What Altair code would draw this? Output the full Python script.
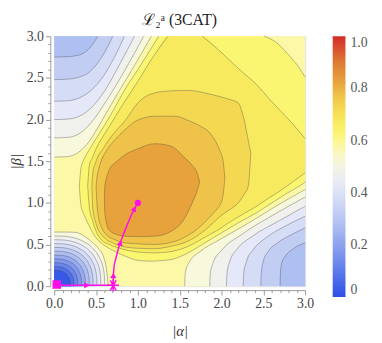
import altair as alt
import pandas as pd

# ---------------- data ----------------
AXIS_RANGE = [0.0, 3.0]
MAJOR_TICKS = [0.0, 0.5, 1.0, 1.5, 2.0, 2.5, 3.0]
MINOR_TICKS = [0.1, 0.2, 0.3, 0.4, 0.6, 0.7, 0.8, 0.9, 1.1, 1.2, 1.3, 1.4, 1.6, 1.7, 1.8, 1.9,
               2.1, 2.2, 2.3, 2.4, 2.6, 2.7, 2.8, 2.9]
CONTOUR_STEP = 0.05

# regions where L2 > level (alpha, lower beta, upper beta)
HI60_A = [0.3, 0.32, 0.36, 0.42, 0.5, 0.6, 0.7, 0.85, 1.0, 1.15, 1.25, 1.4, 1.6, 1.8, 2.0, 2.2, 2.4, 2.51, 2.65, 2.79, 2.93, 3.0]
HI60_LO = [1.2, 0.97, 0.85, 0.72, 0.58, 0.49, 0.43, 0.36, 0.31, 0.3, 0.305, 0.32, 0.4, 0.52, 0.64, 0.76, 0.87, 0.94, 1.03, 1.12, 1.2, 1.25]
HI60_HI = [1.2, 1.42, 1.53, 1.64, 1.77, 1.93, 2.1, 2.37, 2.6, 2.84, 3.0, 3.0, 3.0, 3.0, 3.0, 3.0, 3.0, 3.0, 2.93, 2.79, 2.62, 2.51]

HI65_A = [0.4, 0.42, 0.46, 0.5, 0.56, 0.66, 0.8, 1.0, 1.2, 1.36, 1.5, 1.65, 1.77, 1.95, 2.1, 2.25, 2.42, 2.57, 2.71, 2.85, 3.0]
HI65_LO = [1.2, 0.95, 0.78, 0.66, 0.56, 0.5, 0.45, 0.41, 0.4, 0.41, 0.44, 0.5, 0.57, 0.67, 0.77, 0.86, 0.96, 1.06, 1.15, 1.25, 1.36]
HI65_HI = [1.2, 1.45, 1.55, 1.65, 1.76, 1.92, 2.15, 2.46, 2.78, 3.0, 3.0, 3.0, 3.0, 2.85, 2.71, 2.57, 2.42, 2.25, 2.1, 1.95, 1.77]

HI70_A = [0.45, 0.46, 0.5, 0.59, 0.7, 0.85, 1.0, 1.2, 1.4, 1.6, 1.8, 2.0, 2.1, 2.2, 2.27, 2.32, 2.35]
HI70_LO = [1.2, 0.95, 0.75, 0.59, 0.52, 0.47, 0.455, 0.45, 0.48, 0.54, 0.67, 0.85, 0.92, 1.0, 1.1, 1.2, 1.6]
HI70_HI = [1.2, 1.35, 1.5, 1.66, 1.82, 1.99, 2.2, 2.32, 2.345, 2.35, 2.32, 2.27, 2.24, 2.2, 2.0, 1.75, 1.6]

HI75_A = [0.5, 0.51, 0.53, 0.56, 0.62, 0.72, 0.85, 0.97, 1.2, 1.45, 1.6, 1.75, 1.85, 1.95, 1.98, 2.02, 2.04]
HI75_LO = [1.2, 1.0, 0.82, 0.72, 0.62, 0.56, 0.52, 0.51, 0.5, 0.54, 0.61, 0.72, 0.82, 0.93, 0.97, 1.1, 1.3]
HI75_HI = [1.2, 1.3, 1.4, 1.5, 1.62, 1.75, 1.88, 1.98, 2.04, 2.04, 1.99, 1.92, 1.85, 1.7, 1.63, 1.5, 1.3]

HI80_A = [0.6, 0.605, 0.62, 0.66, 0.75, 0.85, 1.0, 1.2, 1.4, 1.55, 1.65, 1.7, 1.74]
HI80_LO = [1.05, 0.88, 0.78, 0.67, 0.62, 0.6, 0.595, 0.6, 0.66, 0.8, 1.0, 1.12, 1.25]
HI80_HI = [1.05, 1.2, 1.28, 1.4, 1.5, 1.58, 1.65, 1.71, 1.68, 1.55, 1.45, 1.38, 1.25]

# top-left corner: L2 < level above the curve
TL30_A = [0.0, 0.15, 0.28, 0.37, 0.45, 0.52]
TL30_B = [2.75, 2.755, 2.77, 2.81, 2.89, 3.0]
TL35_A = [0.0, 0.15, 0.3, 0.42, 0.52, 0.62, 0.7]
TL35_B = [2.48, 2.485, 2.51, 2.57, 2.68, 2.84, 3.0]
TL40_A = [0.0, 0.15, 0.3, 0.44, 0.58, 0.72, 0.84]
TL40_B = [2.22, 2.225, 2.26, 2.35, 2.51, 2.75, 3.0]
TL45_A = [0.0, 0.15, 0.3, 0.45, 0.6, 0.78, 0.96]
TL45_B = [2.0, 2.005, 2.04, 2.15, 2.34, 2.66, 3.0]
TL50_A = [0.0, 0.15, 0.28, 0.43, 0.62, 0.85, 1.07]
TL50_B = [1.78, 1.785, 1.82, 1.95, 2.22, 2.6, 3.0]
TL55_A = [0.0, 0.15, 0.28, 0.42, 0.56, 0.75, 0.96, 1.16]
TL55_B = [1.55, 1.555, 1.6, 1.74, 1.97, 2.3, 2.65, 3.0]

# bottom-right corner: L2 < level below the curve
BR30_A = [2.7, 2.705, 2.72, 2.77, 2.86, 3.0]
BR30_B = [0.0, 0.15, 0.28, 0.37, 0.45, 0.52]
BR35_A = [2.47, 2.475, 2.5, 2.56, 2.67, 2.84, 3.0]
BR35_B = [0.0, 0.15, 0.3, 0.42, 0.52, 0.62, 0.7]
BR40_A = [2.26, 2.265, 2.3, 2.38, 2.53, 2.76, 3.0]
BR40_B = [0.0, 0.15, 0.3, 0.44, 0.58, 0.72, 0.84]
BR45_A = [2.06, 2.065, 2.1, 2.19, 2.37, 2.68, 3.0]
BR45_B = [0.0, 0.15, 0.3, 0.45, 0.6, 0.78, 0.96]
BR50_A = [1.86, 1.865, 1.9, 2.0, 2.24, 2.61, 3.0]
BR50_B = [0.0, 0.15, 0.28, 0.43, 0.62, 0.85, 1.07]
BR55_A = [1.56, 1.565, 1.61, 1.75, 1.98, 2.31, 2.65, 3.0]
BR55_B = [0.0, 0.15, 0.28, 0.42, 0.56, 0.75, 0.96, 1.16]

# basin round the origin: L2 < level below the curve
BS05_A = [0.0, 0.037, 0.064, 0.109, 0.144, 0.169, 0.185, 0.189, 0.19]
BS05_B = [0.19, 0.189, 0.185, 0.169, 0.144, 0.109, 0.064, 0.037, 0.0]
BS10_A = [0.0, 0.046, 0.08, 0.135, 0.179, 0.21, 0.23, 0.234, 0.236]
BS10_B = [0.236, 0.234, 0.23, 0.21, 0.179, 0.135, 0.08, 0.046, 0.0]
BS15_A = [0.0, 0.055, 0.096, 0.162, 0.214, 0.251, 0.274, 0.28, 0.282]
BS15_B = [0.282, 0.28, 0.274, 0.251, 0.214, 0.162, 0.096, 0.055, 0.0]
BS20_A = [0.0, 0.064, 0.111, 0.188, 0.249, 0.292, 0.319, 0.326, 0.328]
BS20_B = [0.328, 0.326, 0.319, 0.292, 0.249, 0.188, 0.111, 0.064, 0.0]
BS25_A = [0.0, 0.073, 0.127, 0.215, 0.283, 0.333, 0.364, 0.371, 0.374]
BS25_B = [0.374, 0.371, 0.364, 0.333, 0.283, 0.215, 0.127, 0.073, 0.0]
BS30_A = [0.0, 0.082, 0.142, 0.241, 0.318, 0.374, 0.409, 0.417, 0.42]
BS30_B = [0.42, 0.417, 0.409, 0.374, 0.318, 0.241, 0.142, 0.082, 0.0]
BS35_A = [0.0, 0.091, 0.158, 0.267, 0.353, 0.415, 0.453, 0.463, 0.466]
BS35_B = [0.466, 0.463, 0.453, 0.415, 0.353, 0.267, 0.158, 0.091, 0.0]
BS40_A = [0.0, 0.1, 0.174, 0.294, 0.388, 0.456, 0.498, 0.508, 0.512]
BS40_B = [0.512, 0.508, 0.498, 0.456, 0.388, 0.294, 0.174, 0.1, 0.0]
BS45_A = [0.0, 0.109, 0.189, 0.32, 0.423, 0.497, 0.543, 0.554, 0.558]
BS45_B = [0.558, 0.554, 0.543, 0.497, 0.423, 0.32, 0.189, 0.109, 0.0]
BS50_A = [0.0, 0.118, 0.205, 0.347, 0.458, 0.538, 0.588, 0.6, 0.604]
BS50_B = [0.604, 0.6, 0.588, 0.538, 0.458, 0.347, 0.205, 0.118, 0.0]
BS55_A = [0.0, 0.15, 0.26, 0.36, 0.45, 0.53, 0.59, 0.625, 0.645]
BS55_B = [0.65, 0.65, 0.645, 0.6, 0.53, 0.45, 0.35, 0.2, 0.0]

# colour bar
CB_STOPS = [0.0, 0.025, 0.075, 0.125, 0.175, 0.225, 0.275, 0.325, 0.375, 0.425, 0.475,
            0.525, 0.575, 0.625, 0.675, 0.725, 0.775, 0.825, 0.9, 1.0]
CB_COLORS = ["#2e4fe6", "#3858e8", "#5070ea", "#6a85ec", "#8298ee", "#98abf0", "#aebff2",
             "#c2cdf4", "#d4dcf6", "#e4e8f8", "#f0f0ec", "#f8f8dc", "#fcf8a8", "#fbf672",
             "#f8ea5e", "#f4d852", "#efc24a", "#e7a23c", "#dd7a34", "#d42a2a"]
CB_TICKS = [0.0, 0.2, 0.4, 0.6, 0.8, 1.0]
BACKGROUND_LEVEL = 0.55

# trajectory overlay
PATH1_ALPHA = [0.03, 0.705]
PATH1_BETA = [0.01, 0.01]
PATH2_ALPHA = [0.705, 0.707, 0.715, 0.736, 0.767, 0.807, 0.866, 0.925, 1.0]
PATH2_BETA = [0.01, 0.12, 0.23, 0.33, 0.45, 0.57, 0.72, 0.86, 1.0]
ARROW_ALPHA = [0.39, 0.707, 0.79, 0.96]
ARROW_BETA = [0.01, 0.13, 0.52, 0.93]
ARROW_ANGLE = [90, 2, 15, 28]
START_ALPHA, START_BETA = [0.03], [0.02]
STAR_ALPHA, STAR_BETA = [0.705], [0.01]
END_ALPHA, END_BETA = [1.0], [1.0]

# ---------------- chart ----------------
PINK = "#ff10e8"
SERIF = "Liberation Serif"
TOP = AXIS_RANGE[1]
BOTTOM = AXIS_RANGE[0]
half = CONTOUR_STEP / 2

xs = alt.Scale(domain=AXIS_RANGE, nice=False, zero=False)
ys = alt.Scale(domain=AXIS_RANGE, nice=False, zero=False)
cscale = alt.Scale(domain=CB_STOPS, range=CB_COLORS, interpolate="rgb")
LEG = alt.Legend(
    type="gradient", title=None, orient="right", offset=26, direction="vertical",
    gradientLength=265, gradientThickness=13, gradientStrokeWidth=0,
    values=CB_TICKS, labelOverlap=False,
    labelExpr="datum.value == 0 ? '0' : format(datum.value, '.1f')",
    labelFont=SERIF, labelFontSize=14, labelColor="#555", labelOffset=5)

def axis_major(title, orient):
    return alt.Axis(title=title, values=MAJOR_TICKS, format=".1f", orient=orient, offset=4,
                    tickSize=5, labelFlush=False, labelOverlap=False, grid=False,
                    labelFont=SERIF, labelFontSize=14, labelColor="#444", labelPadding=2,
                    titleFont=SERIF, titleFontSize=15, titleFontWeight="normal",
                    titleFontStyle="italic", titleColor="#333",
                    titlePadding=13 if orient == "bottom" else 3,
                    domainColor="#9a9a9a", tickColor="#9a9a9a")

def axis_minor(orient):
    return alt.Axis(title=None, values=MINOR_TICKS, labels=False, orient=orient, offset=4,
                    tickSize=2.5, domain=False, grid=False, tickColor="#9a9a9a")

def area_layer(a, lo, hi, level):
    df = pd.DataFrame({"a": a, "lo": lo, "hi": hi, "band": [level] * len(a)})
    return alt.Chart(df).mark_area(interpolate="monotone").encode(
        x=alt.X("a:Q", scale=xs, axis=None),
        y=alt.Y("lo:Q", scale=ys, axis=None),
        y2="hi:Q",
        color=alt.Color("band:Q", scale=cscale, legend=LEG))

bg_df = pd.DataFrame({"a0": [AXIS_RANGE[0]], "a1": [AXIS_RANGE[1]],
                      "b0": [AXIS_RANGE[0]], "b1": [AXIS_RANGE[1]],
                      "band": [BACKGROUND_LEVEL + half]})
background = alt.Chart(bg_df).mark_rect().encode(
    x=alt.X("a0:Q", scale=xs, axis=axis_major("|α|", "bottom")), x2="a1:Q",
    y=alt.Y("b0:Q", scale=ys, axis=axis_major("|β|", "left")), y2="b1:Q",
    color=alt.Color("band:Q", scale=cscale, legend=LEG))

HIGH = [(0.60, HI60_A, HI60_LO, HI60_HI), (0.65, HI65_A, HI65_LO, HI65_HI),
        (0.70, HI70_A, HI70_LO, HI70_HI), (0.75, HI75_A, HI75_LO, HI75_HI),
        (0.80, HI80_A, HI80_LO, HI80_HI)]
TOPLEFT = [(0.55, TL55_A, TL55_B), (0.50, TL50_A, TL50_B), (0.45, TL45_A, TL45_B),
           (0.40, TL40_A, TL40_B), (0.35, TL35_A, TL35_B), (0.30, TL30_A, TL30_B)]
BOTRIGHT = [(0.55, BR55_A, BR55_B), (0.50, BR50_A, BR50_B), (0.45, BR45_A, BR45_B),
            (0.40, BR40_A, BR40_B), (0.35, BR35_A, BR35_B), (0.30, BR30_A, BR30_B)]
BASIN = [(0.55, BS55_A, BS55_B), (0.50, BS50_A, BS50_B), (0.45, BS45_A, BS45_B),
         (0.40, BS40_A, BS40_B), (0.35, BS35_A, BS35_B), (0.30, BS30_A, BS30_B),
         (0.25, BS25_A, BS25_B), (0.20, BS20_A, BS20_B), (0.15, BS15_A, BS15_B),
         (0.10, BS10_A, BS10_B), (0.05, BS05_A, BS05_B)]

layers = [background]
lines = []

def add_line(a, b):
    # split off pieces that run along the top edge of the frame
    seg, segs = [], []
    for i, (x, y) in enumerate(zip(a, b)):
        if y >= TOP - 1e-9:
            prev_low = i > 0 and b[i - 1] < TOP - 1e-9
            next_low = i < len(b) - 1 and b[i + 1] < TOP - 1e-9
            if prev_low:
                seg.append((x, y)); segs.append(seg); seg = []
            elif next_low:
                seg = [(x, y)]
            elif i == 0 or i == len(b) - 1:
                seg.append((x, y))
        else:
            seg.append((x, y))
    if seg:
        segs.append(seg)
    for s in segs:
        cid = len(lines)
        for x, y in s:
            lines.append({"cid": cid, "a": x, "b": y})
        lines.append(None)

for lev, a, lo, hi in HIGH:
    layers.append(area_layer(a, lo, hi, lev + half))
    add_line(a, lo)
    add_line(a, hi)
for lev, a, b in TOPLEFT:
    layers.append(area_layer(a, b, [TOP] * len(a), lev - half))
    add_line(a, b)
for group in (BOTRIGHT, BASIN):
    for lev, a, b in group:
        layers.append(area_layer(a, [BOTTOM] * len(a), b, lev - half))
        add_line(a, b)

lines_df = pd.DataFrame([r for r in lines if r is not None])
contours = alt.Chart(lines_df).mark_line(
    interpolate="monotone", color="#3c3c3c", strokeWidth=0.7, opacity=0.5).encode(
    x=alt.X("a:Q", scale=xs, axis=None), y=alt.Y("b:Q", scale=ys, axis=None),
    detail="cid:N")
layers.append(contours)

p1 = pd.DataFrame({"a": PATH1_ALPHA, "b": PATH1_BETA})
p2 = pd.DataFrame({"a": PATH2_ALPHA, "b": PATH2_BETA})
arrows = pd.DataFrame({"a": ARROW_ALPHA, "b": ARROW_BETA, "ang": ARROW_ANGLE})

line1 = alt.Chart(p1).mark_line(color=PINK, strokeWidth=1.5).encode(
    x=alt.X("a:Q", scale=xs, axis=axis_minor("bottom")),
    y=alt.Y("b:Q", scale=ys, axis=axis_minor("left")))
line2 = alt.Chart(p2).mark_line(color=PINK, strokeWidth=1.5, interpolate="monotone").encode(
    x=alt.X("a:Q", scale=xs, axis=None), y=alt.Y("b:Q", scale=ys, axis=None))
arr = alt.Chart(arrows).mark_point(shape="triangle-up", filled=True, color=PINK, size=40, opacity=1).encode(
    x=alt.X("a:Q", scale=xs, axis=None), y=alt.Y("b:Q", scale=ys, axis=None),
    angle=alt.Angle("ang:Q", scale=None))
start = alt.Chart(pd.DataFrame({"a": START_ALPHA, "b": START_BETA})).mark_point(
    shape="square", filled=True, color=PINK, size=75, opacity=1).encode(
    x=alt.X("a:Q", scale=xs, axis=None), y=alt.Y("b:Q", scale=ys, axis=None))
star = alt.Chart(pd.DataFrame({"a": STAR_ALPHA, "b": STAR_BETA})).mark_point(
    shape="M-1,0L1,0M-0.5,-0.866L0.5,0.866M-0.5,0.866L0.5,-0.866M0,-1L0,1",
    filled=False, color=PINK, strokeWidth=1.5, size=140, opacity=1).encode(
    x=alt.X("a:Q", scale=xs, axis=None), y=alt.Y("b:Q", scale=ys, axis=None))
end = alt.Chart(pd.DataFrame({"a": END_ALPHA, "b": END_BETA})).mark_point(
    shape="circle", filled=True, color=PINK, size=40, opacity=1).encode(
    x=alt.X("a:Q", scale=xs, axis=None), y=alt.Y("b:Q", scale=ys, axis=None))

layers += [line1, line2, arr, start, star, end]

chart = alt.layer(*layers).resolve_axis(x="independent", y="independent").properties(
    width=255, height=254,
    autosize=alt.AutoSizeParams(type="none"),
    padding={"left": 47, "top": 26, "right": 70, "bottom": 54},
    title=alt.TitleParams("ℒ₂ᵃ (3CAT)", font=SERIF, fontSize=16, fontWeight="normal",
                          color="#222", offset=1, anchor="middle", frame="group"),
).configure_view(stroke=None).configure(background="white").configure_axis(
    labelFont=SERIF, titleFont=SERIF).configure_legend(labelFont=SERIF)

chart.save("out.html", embed_options={"renderer": "svg", "actions": False})
